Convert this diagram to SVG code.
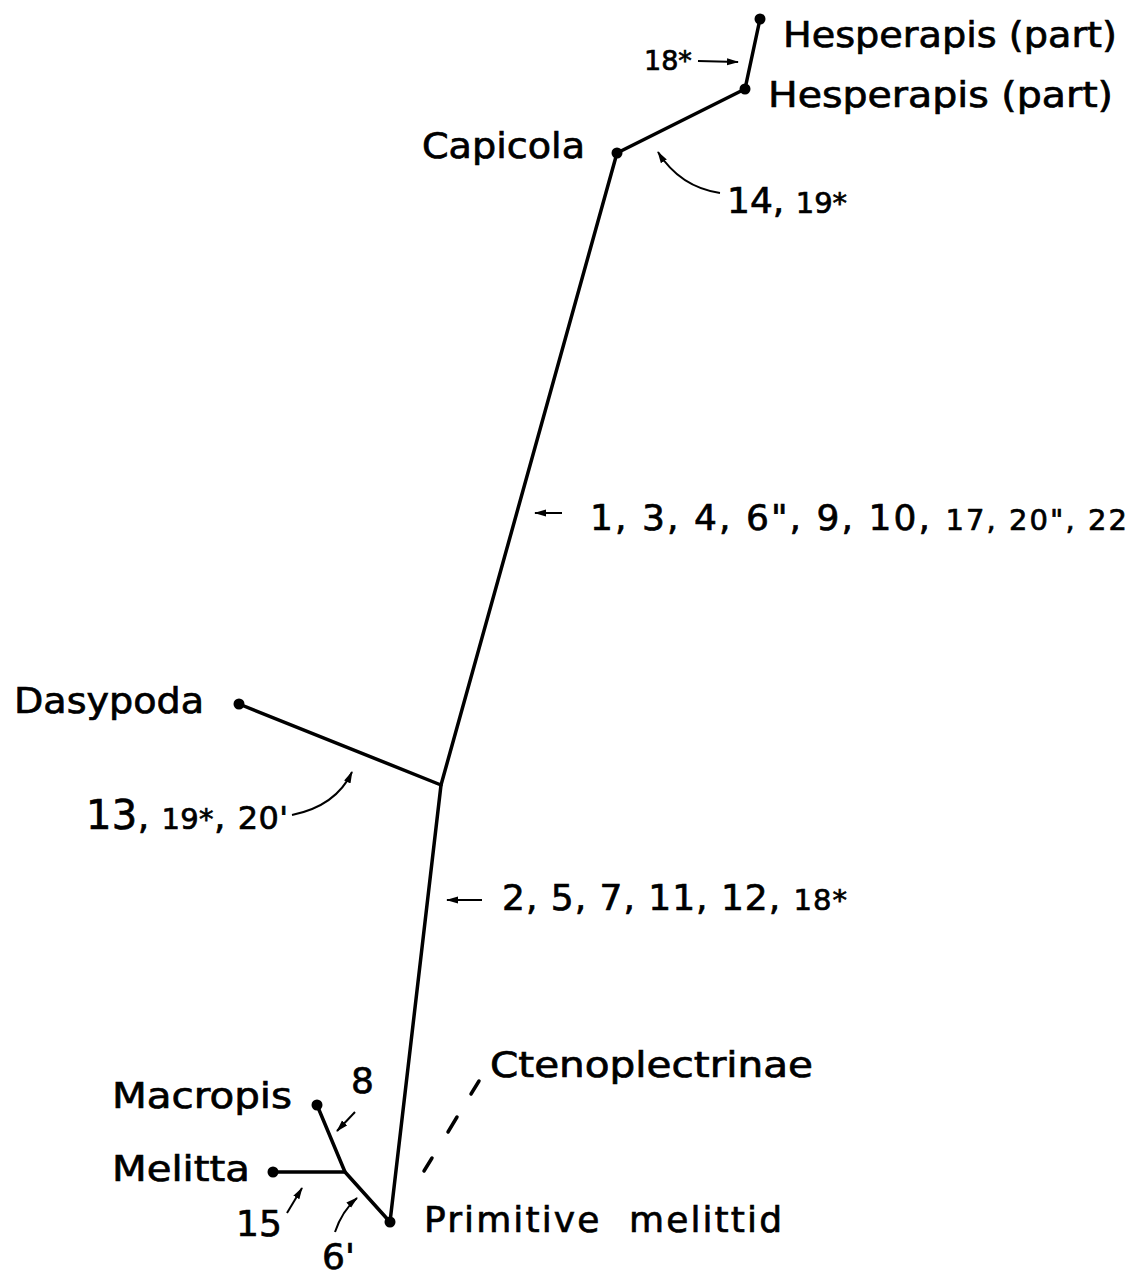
<svg xmlns="http://www.w3.org/2000/svg" width="1132" height="1276" viewBox="0 0 1132 1276">
<style>
.lbl{font-family:"DejaVu Sans","Liberation Sans",sans-serif;font-size:36px;fill:#000;stroke:#000;stroke-width:0.7}
.num{font-family:"DejaVu Sans","Liberation Sans",sans-serif;font-size:36px;fill:#000;stroke:#000;stroke-width:0.7}
.sm{font-size:29px}
.br{fill:none;stroke:#000;stroke-width:3.5;stroke-linecap:round;stroke-linejoin:round}
.ds{fill:none;stroke:#000;stroke-width:3.5;stroke-linecap:round}
.ar{fill:none;stroke:#000;stroke-width:2}
.dot{fill:#000}
</style>
<defs>
<marker id="ah" viewBox="0 0 12 8" refX="11" refY="4" markerWidth="12" markerHeight="8" markerUnits="userSpaceOnUse" orient="auto">
<path d="M0,0.5 L12,4 L0,7.5 z" fill="#000"/>
</marker>
</defs>
<rect width="1132" height="1276" fill="#fff"/>
<g id="connectors">
<path class="br" d="M617,153 L441,785 L390,1222"/>
<path class="br" d="M239,704 L441,785"/>
<path class="br" d="M617,153 L745,89 L760,19"/>
<path class="br" d="M390,1222 L345,1172 L317,1105"/>
<path class="br" d="M273,1172 L345,1172"/>
<path class="ds" d="M424,1171 L432,1158 M448,1132 L457,1117 M471,1094 L479,1081"/>
<path class="ar" marker-end="url(#ah)" d="M698,61 L738,62"/>
<path class="ar" marker-end="url(#ah)" d="M720,193 Q680,187 658,152"/>
<path class="ar" marker-end="url(#ah)" d="M562,513 L535,513"/>
<path class="ar" marker-end="url(#ah)" d="M482,900 L447,900"/>
<path class="ar" marker-end="url(#ah)" d="M292,815 Q336,806 352,772"/>
<path class="ar" marker-end="url(#ah)" d="M355,1112 L337,1131"/>
<path class="ar" marker-end="url(#ah)" d="M287,1213 L302,1188"/>
<path class="ar" marker-end="url(#ah)" d="M335,1232 Q342,1211 357,1198"/>
</g>
<g id="hesperapis1"><circle class="dot" cx="760" cy="19" r="5.5"/><text class="lbl" x="783" y="47" textLength="334" lengthAdjust="spacingAndGlyphs">Hesperapis (part)</text></g>
<g id="hesperapis2"><circle class="dot" cx="745" cy="89" r="5.5"/><text class="lbl" x="768" y="107" textLength="345" lengthAdjust="spacingAndGlyphs">Hesperapis (part)</text></g>
<g id="capicola"><circle class="dot" cx="617" cy="153" r="5.5"/><text class="lbl" x="422" y="158" textLength="163" lengthAdjust="spacingAndGlyphs">Capicola</text></g>
<g id="dasypoda"><circle class="dot" cx="239" cy="704" r="5.5"/><text class="lbl" x="14" y="713" textLength="190" lengthAdjust="spacingAndGlyphs">Dasypoda</text></g>
<g id="macropis"><circle class="dot" cx="317" cy="1105" r="5.5"/><text class="lbl" x="112" y="1108" textLength="180" lengthAdjust="spacingAndGlyphs">Macropis</text></g>
<g id="melitta"><circle class="dot" cx="273" cy="1172" r="5.5"/><text class="lbl" x="112" y="1181" textLength="138" lengthAdjust="spacingAndGlyphs">Melitta</text></g>
<g id="primitive"><circle class="dot" cx="390" cy="1222" r="5.5"/><text class="lbl" x="424" y="1232" textLength="358" lengthAdjust="spacing" word-spacing="14">Primitive melittid</text></g>
<g id="ctenoplectrinae"><text class="lbl" x="490" y="1077" textLength="323" lengthAdjust="spacingAndGlyphs">Ctenoplectrinae</text></g>
<g id="labels">
<text class="num" x="644" y="70" style="font-size:27px">18*</text>
<text class="num" x="727" y="213">14, <tspan class="sm">19*</tspan></text>
<text class="num" x="590" y="530" textLength="537" lengthAdjust="spacing">1, 3, 4, 6", 9, 10, <tspan class="sm">17, 20", 22</tspan></text>
<text class="num" x="86" y="829" textLength="202" lengthAdjust="spacing"><tspan style="font-size:40px">13</tspan>, <tspan class="sm">19*</tspan>, <tspan style="font-size:32px">20'</tspan></text>
<text class="num" x="502" y="910" textLength="345" lengthAdjust="spacing">2, 5, 7, 11, 12, <tspan class="sm">18*</tspan></text>
<text class="num" x="351" y="1093">8</text>
<text class="num" x="236" y="1236">15</text>
<text class="num" x="322" y="1269">6'</text>
</g>
</svg>
